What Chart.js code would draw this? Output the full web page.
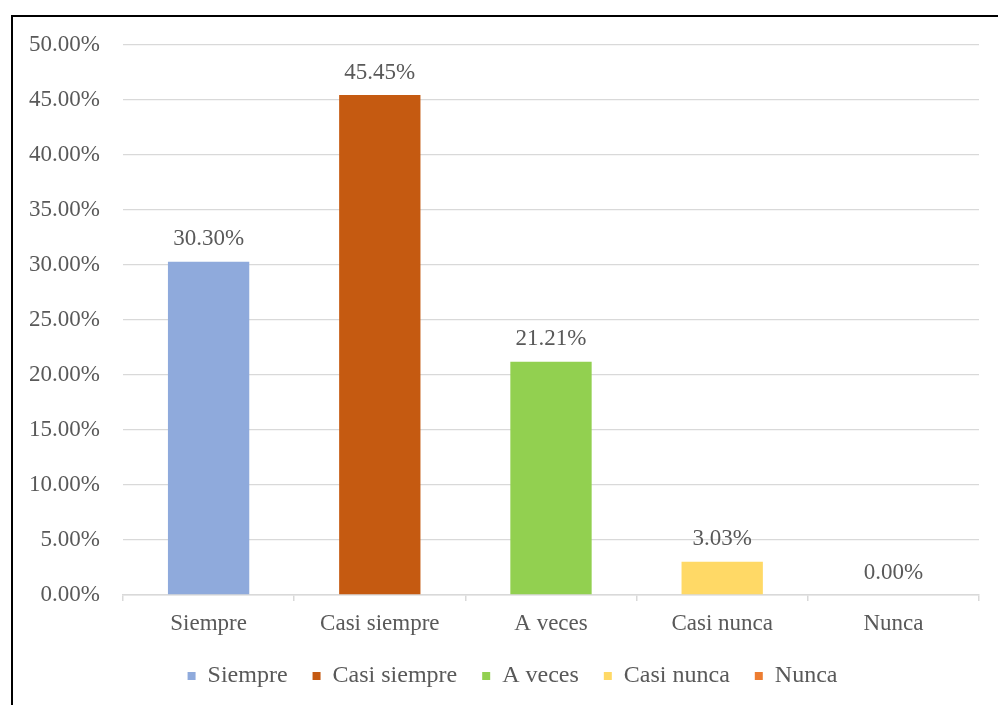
<!DOCTYPE html>
<html>
<head>
<meta charset="utf-8">
<script src="https://cdn.jsdelivr.net/npm/chart.js@4.4.0/dist/chart.umd.min.js"></script>
<style>
  html, body { margin: 0; padding: 0; background: #fff; }
  #wrap { position: relative; width: 998px; height: 705px; overflow: hidden; }
  #frame { position: absolute; left: 11px; top: 15px; width: 1100px; height: 800px; border: 2px solid #000; box-sizing: border-box; pointer-events: none; }
  canvas { position: absolute; left: 0; top: 0; }
</style>
</head>
<body>
<div id="wrap">
  <canvas id="c" width="998" height="705"></canvas>
  <div id="frame"></div>
</div>
<script>
const categories = ["Siempre", "Casi siempre", "A veces", "Casi nunca", "Nunca"];
const values = [30.30, 45.45, 21.21, 3.03, 0.00];
const barColors = ["#8FAADC", "#C55A11", "#92D050", "#FFD966", "#ED7D31"];
const yTicks = [0, 5, 10, 15, 20, 25, 30, 35, 40, 45, 50];

const FONT = "'Liberation Serif', 'Times New Roman', serif";
const TEXT = "#595959";
const GRID = "#D9D9D9";
const FS = 23;
const LFS = 24;

const labelPlugin = {
  id: 'barLabels',
  afterDatasetsDraw(chart) {
    const ctx = chart.ctx;
    const meta = chart.getDatasetMeta(0);
    ctx.save();
    ctx.font = FS + "px " + FONT;
    ctx.fillStyle = TEXT;
    ctx.textAlign = 'center';
    ctx.textBaseline = 'bottom';
    meta.data.forEach((bar, i) => {
      ctx.fillText(values[i].toFixed(2) + "%", bar.x, bar.y - 11);
    });
    ctx.restore();
  }
};

const legendShift = {
  id: 'legendShift',
  afterLayout(chart) {
    if (chart.legend) {
      chart.legend.left += 23;
      chart.legend.right += 23;
    }
  }
};

new Chart(document.getElementById('c'), {
  type: 'bar',
  data: {
    labels: categories,
    datasets: [{
      data: values,
      backgroundColor: barColors,
      borderWidth: 0,
      barPercentage: 0.475,
      categoryPercentage: 1.0
    }]
  },
  options: {
    responsive: false,
    animation: false,
    devicePixelRatio: 1,
    layout: { padding: { left: 0, right: 19, top: 45, bottom: 7 } },
    plugins: {
      tooltip: { enabled: false },
      legend: {
        position: 'bottom',
        labels: {
          font: { family: FONT, size: LFS },
          color: TEXT,
          usePointStyle: true,
          pointStyle: 'rect',
          boxWidth: 8,
          boxHeight: 8,
          padding: 25,
          generateLabels(chart) {
            return categories.map((c, i) => ({
              text: c,
              fillStyle: barColors[i],
              strokeStyle: barColors[i],
              lineWidth: 0,
              pointStyle: 'rect',
              hidden: false,
              index: i,
              fontColor: TEXT
            }));
          }
        },
        onClick: () => {}
      }
    },
    scales: {
      x: {
        offset: true,
        grid: {
          display: true,
          offset: true,
          drawOnChartArea: false,
          drawTicks: true,
          tickLength: 6,
          color: GRID,
          lineWidth: 1.5
        },
        border: { display: true, color: GRID, width: 1.5 },
        ticks: {
          font: { family: FONT, size: FS },
          color: TEXT,
          padding: 9,
          maxRotation: 0
        },
        afterFit(scale) { scale.height = 44; }
      },
      y: {
        min: 0,
        max: 50,
        afterBuildTicks(scale) { scale.ticks = yTicks.map(v => ({ value: v })); },
        grid: { color: GRID, lineWidth: 1.3, drawTicks: false },
        border: { display: false },
        ticks: {
          font: { family: FONT, size: FS },
          color: TEXT,
          padding: 23,
          callback: v => Number(v).toFixed(2) + "%"
        },
        afterFit(scale) { scale.width = 123; }
      }
    }
  },
  plugins: [labelPlugin, legendShift]
});
</script>
</body>
</html>
